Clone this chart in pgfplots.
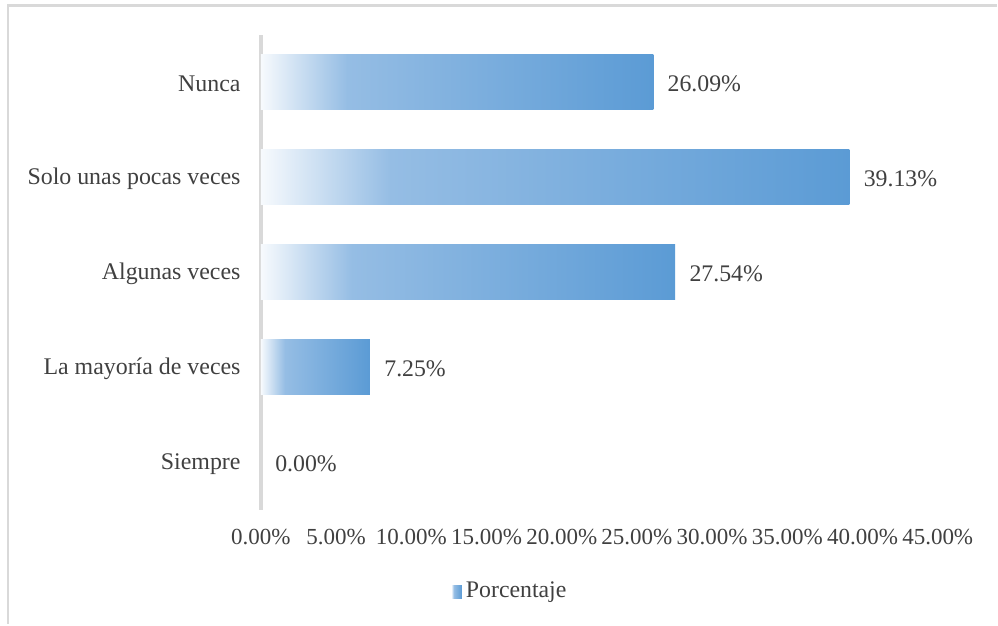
\documentclass[border=0pt]{standalone}
\usepackage{pgfplots}
\pgfplotsset{compat=1.18}
\usepackage{fontspec}
\setmainfont{Liberation Serif}
\definecolor{txt}{HTML}{404040}
\definecolor{axln}{HTML}{D9D9D9}
\definecolor{lb}{HTML}{95BDE4}
\definecolor{db}{HTML}{5B9BD5}
\definecolor{wb}{HTML}{F7FAFD}
\pgfdeclarehorizontalshading{barshade}{100bp}{color(0bp)=(wb); color(25bp)=(wb); color(36bp)=(lb); color(75bp)=(db); color(100bp)=(db)}
\begin{document}
\begin{tikzpicture}[font=\fontsize{11.5}{13.8}\selectfont]
\path (0pt,0pt) rectangle (499pt,-312pt);
\draw[axln, line width=1.3pt] (4pt,-312pt) -- (4pt,-2.9pt) -- (498.5pt,-2.9pt);
\begin{axis}[
  at={(130.5pt,-255pt)}, anchor=south west,
  scale only axis, width=338.5pt, height=237.5pt,
  xmin=0, xmax=45, ymin=-0.5, ymax=4.5,
  axis y line*=left, axis x line*=bottom,
  x axis line style={draw=none},
  y axis line style={draw=axln, line width=2pt, -},
  xtick={0,5,...,45}, ytick={0,1,2,3,4},
  yticklabels={Siempre, La mayoría de veces, Algunas veces, Solo unas pocas veces, Nunca},
  major tick length=0pt,
  /pgf/number format/assume math mode=true,
  xticklabel={\pgfmathprintnumber[fixed,fixed zerofill,precision=2]{\tick}\%},
  xticklabel style={anchor=base, yshift=-17.5pt, inner sep=0pt, text=txt},
  yticklabel style={anchor=east, xshift=-10pt, yshift=-0.8pt, inner sep=0pt, text=txt, font=\fontsize{11.95}{14}\selectfont},
  legend style={at={(0.281,-0.172)}, anchor=west, draw=none, fill=none, inner sep=0pt, text=txt, font=\fontsize{11.9}{14}\selectfont},
  legend image code/.code={\fill[shading=barshade, draw=none] (0pt,-3.25pt) rectangle (5.25pt,3.25pt);},
  barsty/.style={xbar, bar width=27.5pt, bar shift=0pt, draw=none, shading=barshade},
  clip=false,
]
\addplot[barsty] coordinates {(26.09,4)};
\addlegendentry{Porcentaje}
\addplot[barsty, forget plot] coordinates {(39.13,3)};
\addplot[barsty, forget plot] coordinates {(27.54,2)};
\addplot[barsty, forget plot] coordinates {(7.25,1)};
\addplot[only marks, mark=none, point meta=x,
  nodes near coords={\pgfmathprintnumber[fixed,fixed zerofill,precision=2]{\pgfplotspointmeta}\%},
  nodes near coords style={anchor=west, xshift=7pt, yshift=-0.8pt, inner sep=0pt, text=txt, font=\fontsize{11.9}{14}\selectfont},
  forget plot] coordinates {
  (26.09,4) (39.13,3) (27.54,2) (7.25,1) (0.00,0)
};
\end{axis}
\end{tikzpicture}
\end{document}
